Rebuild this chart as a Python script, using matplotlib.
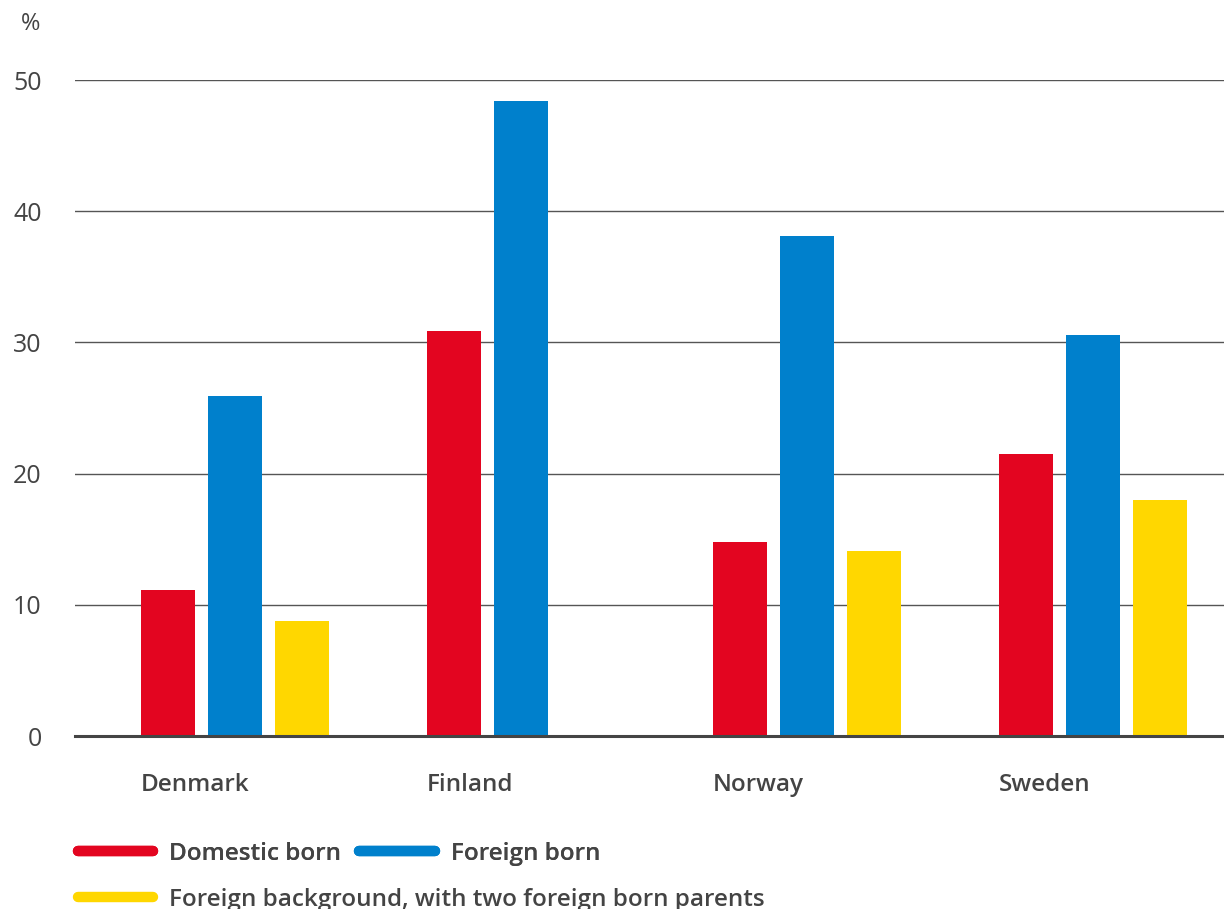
import matplotlib.pyplot as plt
from matplotlib.lines import Line2D
import numpy as np

countries = ["Denmark", "Finland", "Norway", "Sweden"]
series = ["Domestic born", "Foreign born", "Foreign background, with two foreign born parents"]
domestic = [11.1, 30.9, 14.8, 21.5]
foreign = [25.9, 48.4, 38.1, 30.6]
background = [8.8, 0.0, 14.1, 18.0]
yticks = [0, 10, 20, 30, 40, 50]

colors = ["#e30520", "#0080cc", "#ffd700"]
text_col = "#444444"
plt.rcParams["font.family"] = ["Open Sans", "DejaVu Sans"]

fig = plt.figure(figsize=(12.24, 9.09), dpi=100)
ax = fig.add_axes([75 / 1224, 1 - 736 / 909, 1 - 75 / 1224, (736 - 80) / 909])

x = np.arange(len(countries))
step = 67 / 286
width = 54 / 286
for k, vals in enumerate([domestic, foreign, background]):
    ax.bar(x + (k - 1) * step, vals, width, color=colors[k], zorder=3)

ax.set_xlim(-160 / 286, 3 + 131 / 286)
ax.set_ylim(0, 50)
ax.set_yticks(yticks)
ax.set_yticklabels([str(v) for v in yticks], fontsize=18, color=text_col)
ax.tick_params(axis="y", length=0, pad=24)
ax.tick_params(axis="x", length=0)
ax.set_xticks([])
for i, c in enumerate(countries):
    ax.text(i - 94 / 286, -3.7, c, ha="left", va="center", fontsize=17.5,
            fontweight="semibold", color=text_col)

ax.grid(axis="y", color="#555555", linewidth=1, zorder=0)
for s in ["top", "right", "left"]:
    ax.spines[s].set_visible(False)
ax.spines["bottom"].set_color("#444444")
ax.spines["bottom"].set_linewidth(2.2)
ax.spines["bottom"].set_zorder(4)

fig.text(31 / 1224, 1 - 24 / 909, "%", ha="center", va="center", fontsize=17, color=text_col)

handles = [Line2D([], [], color=c, linewidth=7.5, solid_capstyle="round") for c in colors]
leg_kw = dict(frameon=False, handlelength=3.1, handletextpad=0.65, borderaxespad=0,
              borderpad=0, prop={"size": 17.5, "weight": "semibold"})
leg1 = fig.legend(handles[:2], series[:2], ncol=2, loc="center left",
                  bbox_to_anchor=(78 / 1224, 1 - 854 / 909), columnspacing=0.75, **leg_kw)
leg2 = fig.legend(handles[2:], series[2:], loc="center left",
                  bbox_to_anchor=(78 / 1224, 1 - 900 / 909), **leg_kw)
fig.add_artist(leg1)
for leg in (leg1, leg2):
    for t in leg.get_texts():
        t.set_color(text_col)

fig.savefig("out.png", dpi=100)
